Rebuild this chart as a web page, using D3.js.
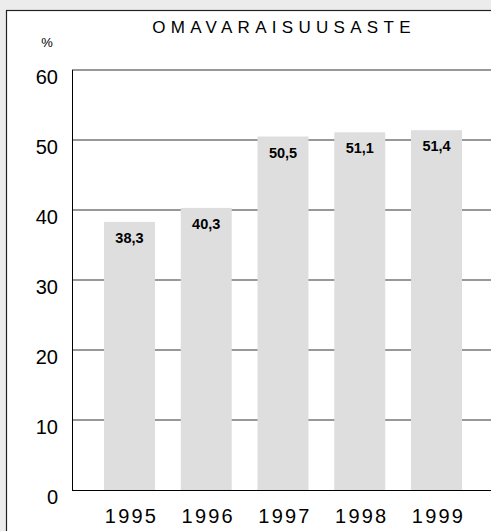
<!DOCTYPE html>
<html>

<head>
    <style>
        body {
            margin: 0;
            background: #ececec;
            font-family: "Liberation Sans", Arial, sans-serif;
        }
    </style>
    <script src="https://cdnjs.cloudflare.com/ajax/libs/d3/7.8.5/d3.min.js"></script>
    <title>Omavaraisuusaste</title>
</head>

<body>
    <script>

        const years = ["1995", "1996", "1997", "1998", "1999"];
        const values = [38.3, 40.3, 50.5, 51.1, 51.4];
        const labels = ["38,3", "40,3", "50,5", "51,1", "51,4"];
        const yTicks = [0, 10, 20, 30, 40, 50, 60];

        const width = 491;
        const height = 531;

        const svg = d3.select("body").append("svg")
            .attr("width", width).attr("height", height)
            .style("display", "block");

        // white panel with dark border, running off the right and bottom edges
        svg.append("rect")
            .attr("x", 6.5).attr("y", 10.5)
            .attr("width", width).attr("height", height)
            .style("fill", "white")
            .style("stroke", "#222")
            .style("stroke-width", 1.2);

        const x = d3.scaleBand()
            .domain(years)
            .range([104, 462])
            .paddingInner(0.336)
            .paddingOuter(0);

        const y = d3.scaleLinear()
            .domain([0, 60])
            .range([490, 70]);

        const left = 72;

        // gridlines behind the bars
        svg.append("g")
            .selectAll("line")
            .data(yTicks.filter(d => d > 0))
            .enter()
            .append("line")
            .attr("x1", left).attr("x2", width)
            .attr("y1", d => y(d)).attr("y2", d => y(d))
            .style("stroke", "#333")
            .style("stroke-width", 1.2);

        svg.append("g")
            .selectAll("rect")
            .data(values)
            .enter()
            .append("rect")
            .attr("x", (d, i) => x(years[i]))
            .attr("y", d => y(d))
            .attr("width", x.bandwidth())
            .attr("height", d => y(0) - y(d))
            .style("fill", "#dedede");

        // value labels inside bar tops
        svg.append("g")
            .selectAll("text")
            .data(values)
            .enter()
            .append("text")
            .attr("x", (d, i) => x(years[i]) + x.bandwidth() / 2)
            .attr("y", d => y(d) + 21)
            .attr("text-anchor", "middle")
            .style("font-size", "14.5px")
            .style("font-weight", "bold")
            .style("fill", "#000")
            .text((d, i) => labels[i]);

        // axes
        svg.append("line")
            .attr("x1", left + 0.5).attr("x2", left + 0.5)
            .attr("y1", y(60)).attr("y2", y(0))
            .style("stroke", "#000");
        svg.append("line")
            .attr("x1", left).attr("x2", width)
            .attr("y1", y(0) + 0.5).attr("y2", y(0) + 0.5)
            .style("stroke", "#000");

        // y tick labels
        svg.append("g")
            .selectAll("text")
            .data(yTicks)
            .enter()
            .append("text")
            .attr("x", 58)
            .attr("y", d => y(d) + 13.5)
            .attr("text-anchor", "end")
            .style("font-size", "20px")
            .style("fill", "#000")
            .text(d => d);

        // year labels
        svg.append("g")
            .selectAll("text")
            .data(years)
            .enter()
            .append("text")
            .attr("x", d => x(d) + x.bandwidth() / 2 + 2)
            .attr("y", 523)
            .attr("text-anchor", "middle")
            .style("font-size", "20px")
            .style("letter-spacing", "2.2px")
            .style("fill", "#000")
            .text(d => d);

        svg.append("text")
            .attr("x", 47).attr("y", 47)
            .attr("text-anchor", "middle")
            .style("font-size", "13px")
            .style("fill", "#000")
            .text("%");

        svg.append("text")
            .attr("x", 284).attr("y", 33)
            .attr("text-anchor", "middle")
            .style("font-size", "17px")
            .style("letter-spacing", "5.3px")
            .style("fill", "#000")
            .text("OMAVARAISUUSASTE");

    </script>
</body>

</html>
